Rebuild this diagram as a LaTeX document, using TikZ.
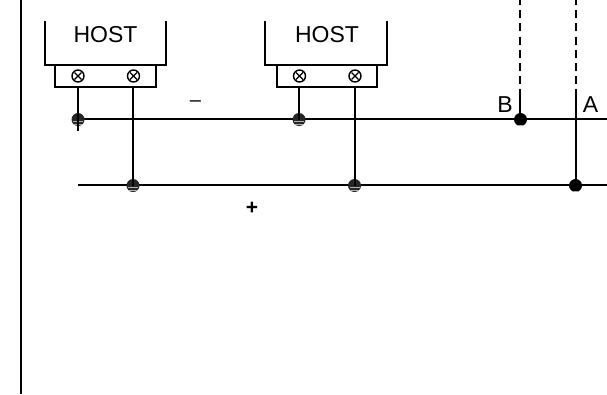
\documentclass[tikz,border=0pt]{standalone}
\usepackage{fontspec}
\setmainfont{Liberation Sans}
\tikzset{
  wire/.style={line width=1.7pt,black},
  stripdot/.style={circle,fill=black!85,minimum size=13pt,inner sep=0pt,outer sep=0pt,
    path picture={
      \draw[white!70!black,line width=.6pt] ([xshift=-5pt,yshift=-2pt]path picture bounding box.center) -- ++(10pt,0);
      \draw[white!70!black,line width=.8pt] ([xshift=-4pt,yshift=-4.6pt]path picture bounding box.center) -- ++(8pt,0);
    }},
  blackdot/.style={circle,fill=black,minimum size=13pt,inner sep=0pt,outer sep=0pt,
    path picture={
      \draw[white!70!black,line width=.7pt] ([xshift=-4pt,yshift=-5.6pt]path picture bounding box.center) -- ++(8pt,0);
    }},
  term/.style={circle,draw=black,line width=1.4pt,fill=white,minimum size=12pt,inner sep=0pt,
    path picture={
      \draw[line width=1.3pt] ([shift={(-3.5pt,-3.5pt)}]path picture bounding box.center) -- ++(7pt,7pt)
        ([shift={(-3.5pt,3.5pt)}]path picture bounding box.center) -- ++(7pt,-7pt);
    }},
  lab/.style={font=\fontsize{23}{26}\selectfont,inner sep=0pt,text=black}
}
\begin{document}
\begin{tikzpicture}[x=1pt,y=-1pt]
\useasboundingbox[fill=white] (0,0) rectangle (607,394);
\coordinate (edgeT) at (21,0);
\coordinate (edgeB) at (21,394);
\draw[wire] (edgeT) -- (edgeB);
% buses
\coordinate (minusL) at (78,119);
\coordinate (minusR) at (607,119);
\coordinate (plusL) at (78,185);
\coordinate (plusR) at (607,185);
\draw[wire] (minusL) -- (minusR);
\draw[wire] (plusL) -- (plusR);
% hosts
\draw[wire,line join=miter] (45,21) -- (45,65) -- (166,65) -- (166,21);
\draw[wire] (55,65) rectangle (156,87);
\draw[wire,line join=miter] (265,21) -- (265,65) -- (387,65) -- (387,21);
\draw[wire] (277,65) rectangle (377,87);
\node[lab] (host1) at (105.5,35) {HOST};
\node[lab] (host2) at (327,35) {HOST};
\node[term] (t1) at (78,76) {};
\node[term] (t2) at (133.5,76) {};
\node[term] (t3) at (299.5,76) {};
\node[term] (t4) at (355,76) {};
% junctions
\coordinate (tail) at (78,131);
\coordinate (s1) at (78,87);
\coordinate (s2) at (133,87);
\coordinate (s3) at (299,87);
\coordinate (s4) at (355,87);
\node[stripdot] (j1) at (78,119.5) {};
\node[stripdot] (j2) at (133,185.5) {};
\node[stripdot] (j3) at (299,119.5) {};
\node[stripdot] (j4) at (354.5,185.5) {};
\node[blackdot] (j5) at (520.5,119.5) {};
\node[blackdot] (j6) at (575.5,185.5) {};
\draw[wire] (s1) -- (tail);
\draw[wire] (s2) -- (s2 |- j2.center);
\draw[wire] (s3) -- (s3 |- j3.center);
\draw[wire] (s4) -- (s4 |- j4.center);
% field wires
\coordinate (b0) at (520,0);
\coordinate (b1) at (520,91);
\coordinate (a0) at (576,0);
\coordinate (a1) at (576,92);
\draw[wire,dash pattern=on 8pt off 5.2pt,dash phase=3pt] (b0) -- (b1);
\draw[wire,dash pattern=on 8pt off 5.2pt,dash phase=3pt] (a0) -- (a1);
\draw[wire] (b1) -- (b1 |- j5.center);
\draw[wire] (a1) -- (a1 |- j6.center);
% labels
\node[lab] (lb) at (505,105) {B};
\node[lab] (la) at (590.5,105) {A};
\node[font=\fontsize{20}{22}\selectfont,inner sep=0pt] (minus) at (195.5,104) {–};
\node[font=\fontsize{21}{24}\selectfont\bfseries,inner sep=0pt] (plus) at (252,208) {+};
\end{tikzpicture}
\end{document}
